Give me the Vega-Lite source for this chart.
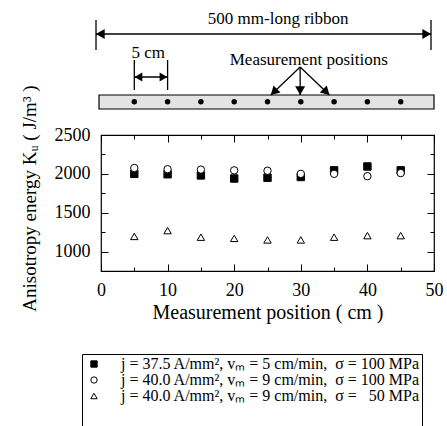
{
  "$schema": "https://vega.github.io/schema/vega-lite/v6.json",
  "padding": {"left": 19, "top": 5, "right": 0, "bottom": 0},
  "spacing": 20,
  "bounds": "flush",
  "config": {
    "font": "Liberation Serif, Times New Roman, Times, serif",
    "view": {"stroke": null},
    "axis": {"labelFont": "Liberation Serif, Times New Roman, Times, serif", "titleFont": "Liberation Serif, Times New Roman, Times, serif", "labelColor": "black", "titleColor": "black", "tickColor": "black", "domainColor": "black", "titleFontWeight": "normal", "grid": false, "tickWidth": 1},
    "legend": {"labelFont": "Liberation Serif, Times New Roman, Times, serif", "labelColor": "black"},
    "text": {"font": "Liberation Serif, Times New Roman, Times, serif"}
  },
  "resolve": {"scale": {"x": "independent", "y": "independent"}},
  "vconcat": [
    {
      "width": 333,
      "height": 110,
      "view": {"stroke": null},
      "layer": [
        {
          "data": {"values": [{"x": -0.3, "x2": 50, "y": 90, "y2": 104}]},
          "mark": {"type": "rect", "fill": "#e3e3e3", "stroke": "black", "strokeWidth": 1.2},
          "encoding": {
            "x": {"field": "x", "type": "quantitative", "scale": {"domain": [0, 50], "nice": false, "zero": false}, "axis": null},
            "x2": {"field": "x2"},
            "y": {"field": "y", "type": "quantitative", "scale": {"domain": [0, 110], "nice": false, "reverse": true}, "axis": null},
            "y2": {"field": "y2"}
          }
        },
        {
          "data": {"values": [
            {"x": -0.75, "y": 29, "x2": 49.55, "y2": 29},
            {"x": -0.75, "y": 15, "x2": -0.75, "y2": 45},
            {"x": 49.55, "y": 15, "x2": 49.55, "y2": 45},
            {"x": 5, "y": 55, "x2": 5, "y2": 85},
            {"x": 10, "y": 55, "x2": 10, "y2": 85},
            {"x": 5, "y": 72, "x2": 10, "y2": 72},
            {"x": 29.9, "y": 62, "x2": 25.5, "y2": 90},
            {"x": 29.9, "y": 62, "x2": 29.9, "y2": 90},
            {"x": 29.9, "y": 62, "x2": 34.3, "y2": 90}
          ]},
          "mark": {"type": "rule", "color": "black", "strokeWidth": 1.3},
          "encoding": {
            "x": {"field": "x", "type": "quantitative", "axis": null},
            "x2": {"field": "x2"},
            "y": {"field": "y", "type": "quantitative", "axis": null},
            "y2": {"field": "y2"}
          }
        },
        {
          "data": {"values": [{"x": -0.1, "y": 29}]},
          "mark": {"type": "point", "shape": "triangle-left", "filled": true, "color": "black", "size": 100, "opacity": 1},
          "encoding": {"x": {"field": "x", "type": "quantitative", "axis": null}, "y": {"field": "y", "type": "quantitative", "axis": null}}
        },
        {
          "data": {"values": [{"x": 48.9, "y": 29}]},
          "mark": {"type": "point", "shape": "triangle-right", "filled": true, "color": "black", "size": 100, "opacity": 1},
          "encoding": {"x": {"field": "x", "type": "quantitative", "axis": null}, "y": {"field": "y", "type": "quantitative", "axis": null}}
        },
        {
          "data": {"values": [{"x": 5.62, "y": 72}]},
          "mark": {"type": "point", "shape": "triangle-left", "filled": true, "color": "black", "size": 80, "opacity": 1},
          "encoding": {"x": {"field": "x", "type": "quantitative", "axis": null}, "y": {"field": "y", "type": "quantitative", "axis": null}}
        },
        {
          "data": {"values": [{"x": 9.38, "y": 72}]},
          "mark": {"type": "point", "shape": "triangle-right", "filled": true, "color": "black", "size": 80, "opacity": 1},
          "encoding": {"x": {"field": "x", "type": "quantitative", "axis": null}, "y": {"field": "y", "type": "quantitative", "axis": null}}
        },
        {
          "data": {"values": [{"x": 29.9, "y": 85.7}]},
          "mark": {"type": "point", "shape": "triangle-down", "filled": true, "color": "black", "size": 100, "opacity": 1},
          "encoding": {"x": {"field": "x", "type": "quantitative", "axis": null}, "y": {"field": "y", "type": "quantitative", "axis": null}}
        },
        {
          "data": {"values": [{"x": 25.96, "y": 87}]},
          "mark": {"type": "point", "shape": "triangle-down", "angle": 46, "filled": true, "color": "black", "size": 100, "opacity": 1},
          "encoding": {"x": {"field": "x", "type": "quantitative", "axis": null}, "y": {"field": "y", "type": "quantitative", "axis": null}}
        },
        {
          "data": {"values": [{"x": 33.84, "y": 87}]},
          "mark": {"type": "point", "shape": "triangle-down", "angle": 314, "filled": true, "color": "black", "size": 100, "opacity": 1},
          "encoding": {"x": {"field": "x", "type": "quantitative", "axis": null}, "y": {"field": "y", "type": "quantitative", "axis": null}}
        },
        {
          "data": {"values": [
            {"x": 5, "y": 96.7}, {"x": 10, "y": 96.7}, {"x": 15, "y": 96.7}, {"x": 20, "y": 96.7}, {"x": 25, "y": 96.7},
            {"x": 30, "y": 96.7}, {"x": 35, "y": 96.7}, {"x": 40, "y": 96.7}, {"x": 45, "y": 96.7}
          ]},
          "mark": {"type": "point", "shape": "circle", "filled": true, "color": "black", "size": 30, "opacity": 1},
          "encoding": {"x": {"field": "x", "type": "quantitative", "axis": null}, "y": {"field": "y", "type": "quantitative", "axis": null}}
        },
        {
          "data": {"values": [
            {"x": 26.6, "y": 14, "label": "500 mm-long ribbon"},
            {"x": 7.1, "y": 48, "label": "5 cm"},
            {"x": 31.2, "y": 54.5, "label": "Measurement positions"}
          ]},
          "mark": {"type": "text", "font": "Liberation Serif, Times New Roman, Times, serif", "fontSize": 17, "color": "black", "align": "center", "baseline": "middle"},
          "encoding": {"x": {"field": "x", "type": "quantitative", "axis": null}, "y": {"field": "y", "type": "quantitative", "axis": null}, "text": {"field": "label"}}
        }
      ]
    },
    {
      "width": 333,
      "height": 136,
      "view": {"stroke": "black", "strokeWidth": 1.2},
      "data": {"values": [
        {"pos": 5, "Ku": 2000, "series": "j = 37.5 A/mm², vₘ = 5 cm/min,\u00a0 σ = 100 MPa"},
        {"pos": 10, "Ku": 1995, "series": "j = 37.5 A/mm², vₘ = 5 cm/min,\u00a0 σ = 100 MPa"},
        {"pos": 15, "Ku": 1980, "series": "j = 37.5 A/mm², vₘ = 5 cm/min,\u00a0 σ = 100 MPa"},
        {"pos": 20, "Ku": 1940, "series": "j = 37.5 A/mm², vₘ = 5 cm/min,\u00a0 σ = 100 MPa"},
        {"pos": 25, "Ku": 1950, "series": "j = 37.5 A/mm², vₘ = 5 cm/min,\u00a0 σ = 100 MPa"},
        {"pos": 30, "Ku": 1960, "series": "j = 37.5 A/mm², vₘ = 5 cm/min,\u00a0 σ = 100 MPa"},
        {"pos": 35, "Ku": 2045, "series": "j = 37.5 A/mm², vₘ = 5 cm/min,\u00a0 σ = 100 MPa"},
        {"pos": 40, "Ku": 2095, "series": "j = 37.5 A/mm², vₘ = 5 cm/min,\u00a0 σ = 100 MPa"},
        {"pos": 45, "Ku": 2045, "series": "j = 37.5 A/mm², vₘ = 5 cm/min,\u00a0 σ = 100 MPa"},
        {"pos": 5, "Ku": 2075, "series": "j = 40.0 A/mm², vₘ = 9 cm/min,\u00a0 σ = 100 MPa"},
        {"pos": 10, "Ku": 2060, "series": "j = 40.0 A/mm², vₘ = 9 cm/min,\u00a0 σ = 100 MPa"},
        {"pos": 15, "Ku": 2055, "series": "j = 40.0 A/mm², vₘ = 9 cm/min,\u00a0 σ = 100 MPa"},
        {"pos": 20, "Ku": 2045, "series": "j = 40.0 A/mm², vₘ = 9 cm/min,\u00a0 σ = 100 MPa"},
        {"pos": 25, "Ku": 2040, "series": "j = 40.0 A/mm², vₘ = 9 cm/min,\u00a0 σ = 100 MPa"},
        {"pos": 30, "Ku": 2000, "series": "j = 40.0 A/mm², vₘ = 9 cm/min,\u00a0 σ = 100 MPa"},
        {"pos": 35, "Ku": 2000, "series": "j = 40.0 A/mm², vₘ = 9 cm/min,\u00a0 σ = 100 MPa"},
        {"pos": 40, "Ku": 1970, "series": "j = 40.0 A/mm², vₘ = 9 cm/min,\u00a0 σ = 100 MPa"},
        {"pos": 45, "Ku": 2010, "series": "j = 40.0 A/mm², vₘ = 9 cm/min,\u00a0 σ = 100 MPa"},
        {"pos": 5, "Ku": 1195, "series": "j = 40.0 A/mm², vₘ = 9 cm/min,\u00a0 σ = \u200750 MPa"},
        {"pos": 10, "Ku": 1270, "series": "j = 40.0 A/mm², vₘ = 9 cm/min,\u00a0 σ = \u200750 MPa"},
        {"pos": 15, "Ku": 1185, "series": "j = 40.0 A/mm², vₘ = 9 cm/min,\u00a0 σ = \u200750 MPa"},
        {"pos": 20, "Ku": 1170, "series": "j = 40.0 A/mm², vₘ = 9 cm/min,\u00a0 σ = \u200750 MPa"},
        {"pos": 25, "Ku": 1150, "series": "j = 40.0 A/mm², vₘ = 9 cm/min,\u00a0 σ = \u200750 MPa"},
        {"pos": 30, "Ku": 1150, "series": "j = 40.0 A/mm², vₘ = 9 cm/min,\u00a0 σ = \u200750 MPa"},
        {"pos": 35, "Ku": 1185, "series": "j = 40.0 A/mm², vₘ = 9 cm/min,\u00a0 σ = \u200750 MPa"},
        {"pos": 40, "Ku": 1205, "series": "j = 40.0 A/mm², vₘ = 9 cm/min,\u00a0 σ = \u200750 MPa"},
        {"pos": 45, "Ku": 1205, "series": "j = 40.0 A/mm², vₘ = 9 cm/min,\u00a0 σ = \u200750 MPa"}
      ]},
      "resolve": {"axis": {"x": "independent", "y": "independent"}},
      "layer": [
        {
          "mark": {"type": "point", "filled": true, "strokeWidth": 1, "size": 55, "opacity": 1},
          "encoding": {
            "x": {"field": "pos", "type": "quantitative", "scale": {"domain": [0, 50], "nice": false, "zero": false},
              "axis": {"orient": "bottom", "values": [0, 10, 20, 30, 40, 50], "format": "d", "tickSize": -7, "labelPadding": 17, "domain": false, "labelFontSize": 18, "labelFlush": false, "title": "Measurement position ( cm )", "titleFontSize": 20, "titlePadding": 3}},
            "y": {"field": "Ku", "type": "quantitative", "scale": {"domain": [750, 2500], "nice": false, "zero": false},
              "axis": {"orient": "left", "values": [1000, 1500, 2000, 2500], "format": "d", "tickSize": -7, "labelPadding": 18, "domain": false, "labelFontSize": 18, "title": "Anisotropy energy Kᵤ ( J/m³ )", "titleFontSize": 19, "titlePadding": 15, "titleY": 63}},
            "shape": {"field": "series", "type": "nominal",
              "scale": {"domain": ["j = 37.5 A/mm², vₘ = 5 cm/min,\u00a0 σ = 100 MPa", "j = 40.0 A/mm², vₘ = 9 cm/min,\u00a0 σ = 100 MPa", "j = 40.0 A/mm², vₘ = 9 cm/min,\u00a0 σ = \u200750 MPa"], "range": ["square", "circle", "triangle-up"]},
              "legend": {"orient": "none", "legendX": -19, "legendY": 349, "title": "\u00a0", "titleOrient": "bottom", "titleFontSize": 18, "titlePadding": 2, "direction": "vertical", "labelFontSize": 16, "labelLimit": 500, "symbolSize": 40, "symbolStrokeWidth": 1, "strokeColor": "black", "fillColor": "white", "padding": 2, "symbolOffset": 2, "labelOffset": 19, "rowPadding": 0}},
            "fill": {"field": "series", "type": "nominal",
              "scale": {"domain": ["j = 37.5 A/mm², vₘ = 5 cm/min,\u00a0 σ = 100 MPa", "j = 40.0 A/mm², vₘ = 9 cm/min,\u00a0 σ = 100 MPa", "j = 40.0 A/mm², vₘ = 9 cm/min,\u00a0 σ = \u200750 MPa"], "range": ["black", "white", "white"]},
              "legend": {"orient": "none", "legendX": -19, "legendY": 349, "title": "\u00a0", "titleOrient": "bottom", "titleFontSize": 18, "titlePadding": 2, "direction": "vertical", "labelFontSize": 16, "labelLimit": 500, "symbolSize": 40, "symbolStrokeWidth": 1, "strokeColor": "black", "fillColor": "white", "padding": 2, "symbolOffset": 2, "labelOffset": 19, "rowPadding": 0}},
            "stroke": {"field": "series", "type": "nominal",
              "scale": {"domain": ["j = 37.5 A/mm², vₘ = 5 cm/min,\u00a0 σ = 100 MPa", "j = 40.0 A/mm², vₘ = 9 cm/min,\u00a0 σ = 100 MPa", "j = 40.0 A/mm², vₘ = 9 cm/min,\u00a0 σ = \u200750 MPa"], "range": ["black", "black", "black"]},
              "legend": {"orient": "none", "legendX": -19, "legendY": 349, "title": "\u00a0", "titleOrient": "bottom", "titleFontSize": 18, "titlePadding": 2, "direction": "vertical", "labelFontSize": 16, "labelLimit": 500, "symbolSize": 40, "symbolStrokeWidth": 1, "strokeColor": "black", "fillColor": "white", "padding": 2, "symbolOffset": 2, "labelOffset": 19, "rowPadding": 0}}
          }
        },
        {
          "mark": {"type": "point", "opacity": 0},
          "encoding": {
            "x": {"field": "pos", "type": "quantitative", "axis": {"orient": "top", "values": [0, 10, 20, 30, 40, 50], "tickSize": -7, "labels": false, "domain": false, "title": null}},
            "y": {"field": "Ku", "type": "quantitative", "axis": {"orient": "right", "values": [1000, 1500, 2000, 2500], "tickSize": -7, "labels": false, "domain": false, "title": null}}
          }
        },
        {
          "mark": {"type": "point", "opacity": 0},
          "encoding": {
            "x": {"field": "pos", "type": "quantitative", "axis": {"orient": "bottom", "values": [5, 15, 25, 35, 45], "tickSize": -4, "labels": false, "domain": false, "title": null}},
            "y": {"field": "Ku", "type": "quantitative", "axis": {"orient": "left", "values": [1250, 1750, 2250], "tickSize": -4, "labels": false, "domain": false, "title": null}}
          }
        },
        {
          "mark": {"type": "point", "opacity": 0},
          "encoding": {
            "x": {"field": "pos", "type": "quantitative", "axis": {"orient": "top", "values": [5, 15, 25, 35, 45], "tickSize": -4, "labels": false, "domain": false, "title": null}},
            "y": {"field": "Ku", "type": "quantitative", "axis": {"orient": "right", "values": [1250, 1750, 2250], "tickSize": -4, "labels": false, "domain": false, "title": null}}
          }
        }
      ]
    }
  ]
}
